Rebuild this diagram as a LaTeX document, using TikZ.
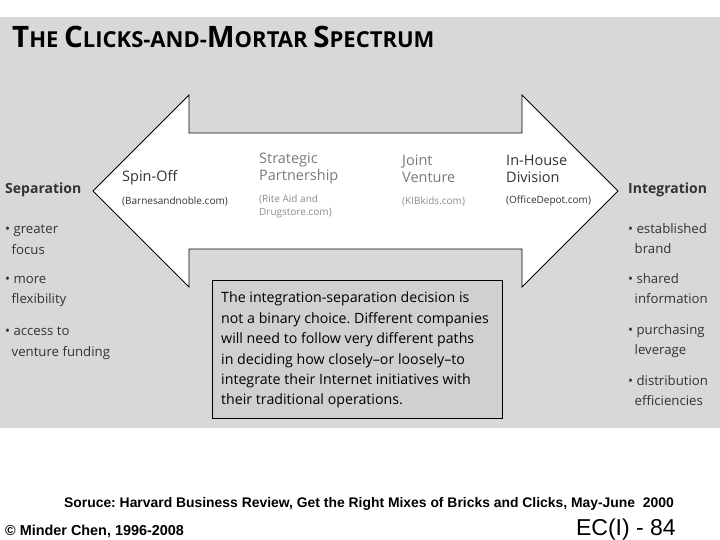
\documentclass[tikz,border=0pt]{standalone}
\usepackage{fontspec}
\setmainfont{Open Sans}
\newfontfamily\footfont{Liberation Sans}
\definecolor{bg}{HTML}{D8D8D8}
\definecolor{boxbg}{HTML}{D0D0D0}
\definecolor{midgray}{HTML}{7A7A7A}
\definecolor{lightgray}{HTML}{8C8C8C}
\definecolor{darktext}{HTML}{333333}
\newcommand{\bigc}[1]{{\fontsize{29.5}{29.5}\selectfont #1}}
\frenchspacing
\tikzset{
  lbl/.style={anchor=west, inner sep=0pt, align=left},
  bullet/.style={lbl, anchor=north west, font=\fontsize{13.2}{20.5}\selectfont, text=darktext},
  head/.style={lbl, font=\bfseries\fontsize{14}{17}\selectfont, text=darktext},
  stage/.style={lbl, font=\fontsize{14.5}{17}\selectfont},
  example/.style={lbl, font=\fontsize{10}{13}\selectfont},
}
\begin{document}
\begin{tikzpicture}[x=1pt,y=-1pt]
\useasboundingbox (0,0) rectangle (720,540);
\fill[white] (0,0) rectangle (720,540);
\fill[bg] (0,17) rectangle (720,428);
% title
\node[lbl, anchor=base west, text=black] (title) at (12,48)
  {\bfseries\fontsize{22}{22}\selectfont \bigc{T}HE \bigc{C}LICKS-AND-\bigc{M}ORTAR \bigc{S}PECTRUM};
% double arrow
\draw[fill=white, draw=black, line width=0.8pt]
  (93,191) -- (189,95) -- (189,133) -- (522,133) -- (522,95) -- (618,191)
  -- (522,287) -- (522,249) -- (189,249) -- (189,287) -- cycle;
% left side
\node[head] (sep) at (5,190) {Separation};
\node[bullet] (sep1) at (5,225) {• greater\\\hspace*{6.5pt}focus};
\node[bullet] (sep2) at (5,276) {• more\\\hspace*{6.5pt}flexibility};
\node[bullet] (sep3) at (5,327) {• access to\\\hspace*{6.5pt}venture funding};
% right side
\node[head] (int) at (628,190) {Integration};
\node[bullet] (int1) at (628,223) {• established\\\hspace*{6.5pt}brand};
\node[bullet] (int2) at (628,273) {• shared\\\hspace*{6.5pt}information};
\node[bullet] (int3) at (628,324) {• purchasing\\\hspace*{6.5pt}leverage};
\node[bullet] (int4) at (628,375) {• distribution\\\hspace*{6.5pt}efficiencies};
% stages
\node[stage, text=darktext] (spin) at (122,178) {Spin-Off};
\node[example, text=darktext] (spinex) at (122,201) {(Barnesandnoble.com)};
\node[stage, text=midgray] (strat) at (259,168.5) {Strategic\\Partnership};
\node[example, text=lightgray] (stratex) at (259,206.5) {(Rite Aid and\\Drugstore.com)};
\node[stage, text=midgray] (joint) at (402,168.5) {Joint\\Venture};
\node[example, text=lightgray] (jointex) at (402,201) {(KIBkids.com)};
\node[stage, text=darktext] (inhouse) at (506,168.5) {In-House\\Division};
\node[example, text=darktext] (inhouseex) at (506,201) {(OfficeDepot.com)};
% box
\draw[fill=boxbg, draw=black, line width=0.6pt] (212,280) rectangle (502,418);
\node[lbl, anchor=north west, font=\fontsize{14.2}{20.4}\selectfont, text=black] (boxtext) at (221,292)
  {The integration-separation decision is\\not a binary choice. Different companies\\will need to follow very different paths\\in deciding how closely--or loosely--to\\integrate their Internet initiatives with\\their traditional operations.};
% footer
\node[lbl, anchor=center, font=\footfont\bfseries\fontsize{13.9}{14}\selectfont] (src) at (369,504)
  {Soruce: Harvard Business Review, Get the Right Mixes of Bricks and Clicks, May-June\ \ 2000};
\node[lbl, font=\footfont\bfseries\fontsize{14.4}{15}\selectfont] (copy) at (5,531) {© Minder Chen, 1996-2008};
\node[lbl, anchor=east, font=\footfont\fontsize{23}{23}\selectfont] (pg) at (676,530) {EC(I) - 84};
\end{tikzpicture}
\end{document}
